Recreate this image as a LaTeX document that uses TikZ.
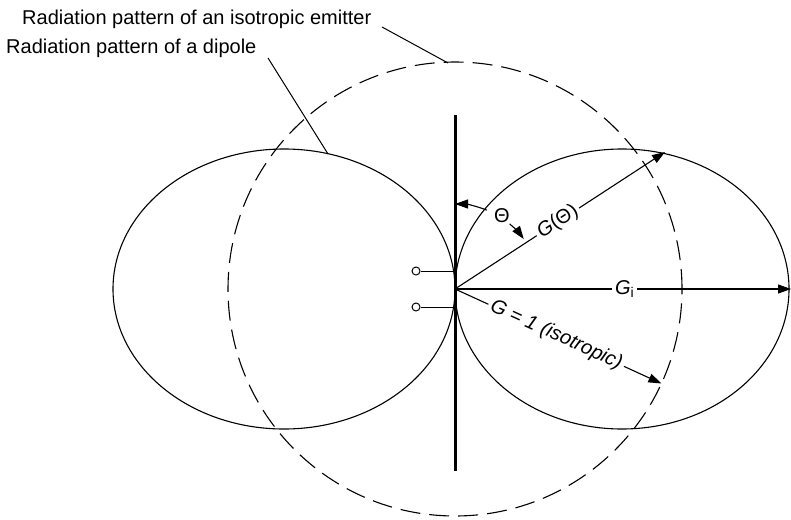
\documentclass[tikz,border=0pt]{standalone}
\usepackage{fontspec}
\setmainfont{Liberation Sans}
\usetikzlibrary{arrows.meta}
\begin{document}
\begin{tikzpicture}[x=1pt,y=-1pt,
  lobe/.style={line width=1.1pt},
  iso/.style={line width=1.1pt, dash pattern=on 20pt off 9pt},
  ray/.style={line width=1.1pt},
  tip/.style={-{Triangle[length=13pt,width=9pt]}},
  lbl/.style={font=\fontsize{20}{24}\selectfont, inner sep=0pt},
  onray/.style={font=\fontsize{20}{24}\selectfont, fill=white, inner sep=3pt, sloped},
  leader/.style={line width=1pt},
  term/.style={circle, draw, line width=1pt, minimum size=8pt, inner sep=0pt}]
\useasboundingbox (0,0) rectangle (791,519);
\coordinate (O) at (455,289);
% dashed isotropic circle
\draw[iso] (O) circle [radius=227pt];
% dipole lobes
\draw[lobe] (284,289) ellipse [x radius=171pt, y radius=140pt];
\draw[lobe] (622,289) ellipse [x radius=167pt, y radius=140pt];
% antenna
\coordinate (atop) at (455,115);
\coordinate (abot) at (455,471);
\draw[line width=3pt] (atop) -- (abot);
% terminals
\node[term] (t1) at (416,271) {};
\node[term] (t2) at (416,307) {};
\coordinate (f1) at (455,271);
\coordinate (f2) at (455,307);
\draw[line width=1pt] (t1) -- (f1);
\draw[line width=1pt] (t2) -- (f2);
% rays
\coordinate (gt) at (665,152);
\coordinate (gi) at (791,289);
\coordinate (g1) at ([shift={(-24.6:227pt)}]O);
\draw[ray,tip] (O) -- (gt) node[onray,pos=0.49] (lgt) {\textit{G}(Θ)};
\draw[ray,tip] (O) -- (gi) node[onray,pos=0.505,sloped=false] (lgi) {\textit{G}\textsubscript{i}};
\draw[ray,tip] (O) -- (g1) node[onray,pos=0.49] (lg1) {\textit{G = 1 (isotropic)}};
% theta
\node[lbl] (th) at (502,216) {Θ};
\draw[ray,tip] ([shift={(68:85pt)}]O) arc[start angle=68,end angle=90,radius=85pt];
\draw[ray,tip] ([shift={(50:85pt)}]O) arc[start angle=50,end angle=36,radius=85pt];
% labels
\node[lbl,anchor=west] (liso) at (22,19) {Radiation pattern of an isotropic emitter};
\node[lbl,anchor=west] (ldip) at (6,48) {Radiation pattern of a dipole};
\coordinate (e1) at (448,63);
\coordinate (e2) at (328,154);
\draw[leader] (382,27) -- (e1);
\draw[leader] (268,58) -- (e2);
\end{tikzpicture}
\end{document}
